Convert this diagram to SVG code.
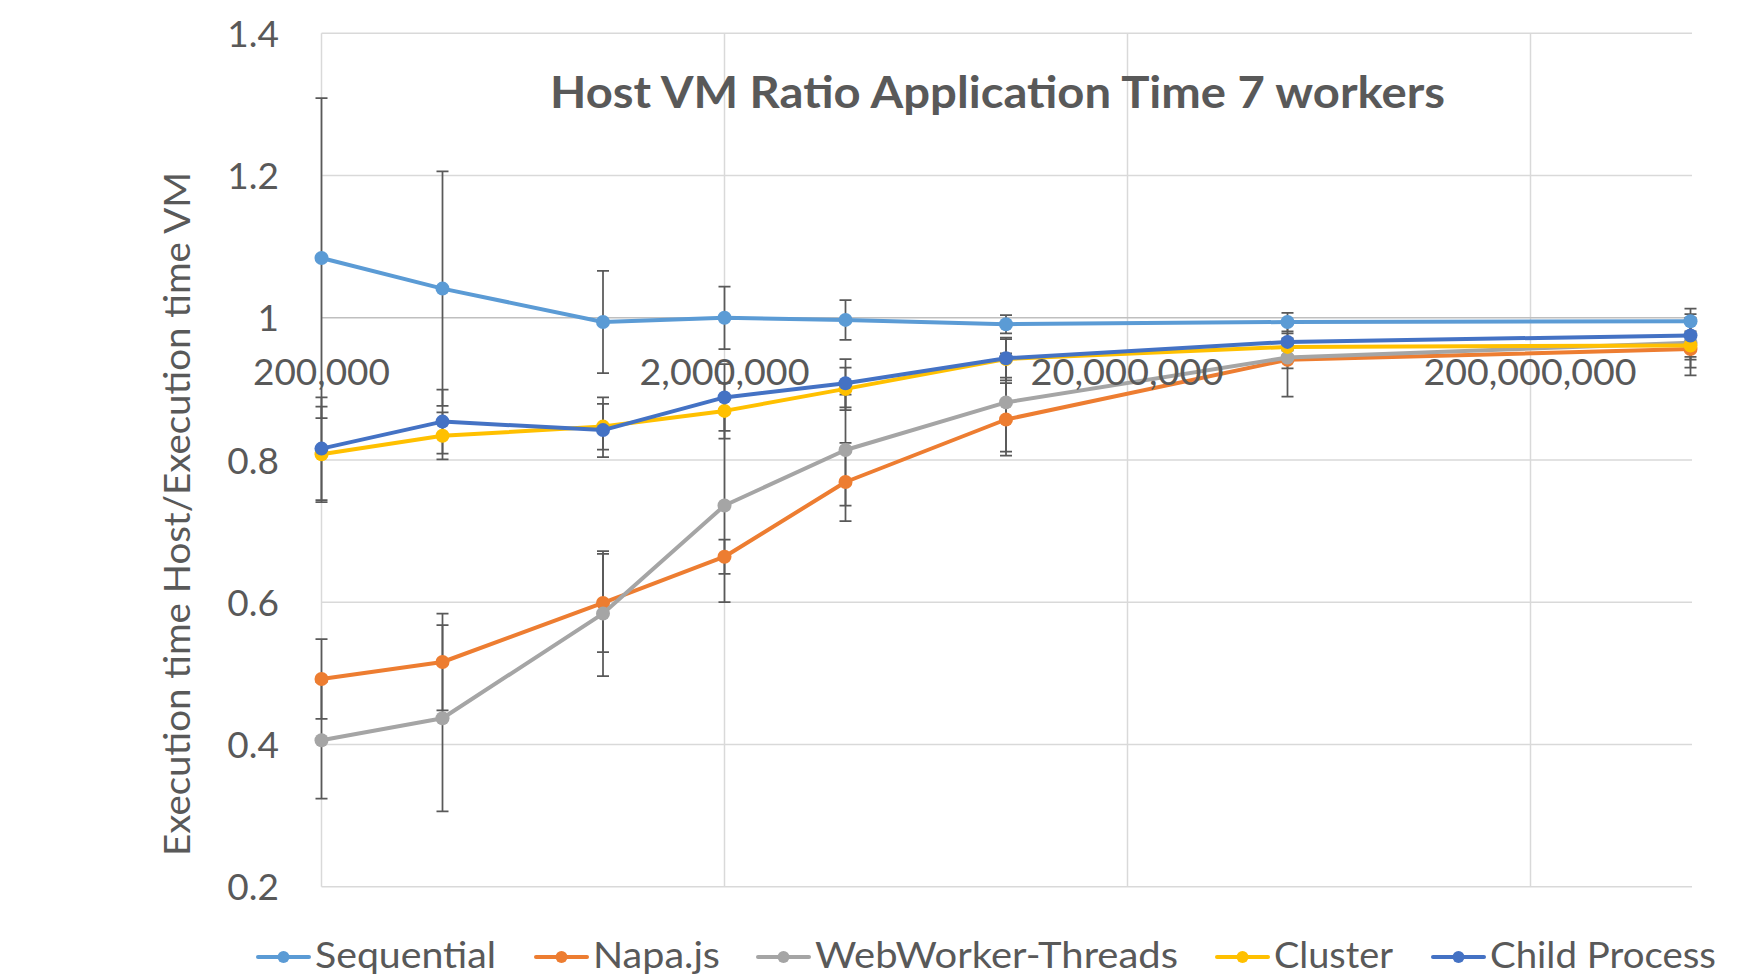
<svg xmlns="http://www.w3.org/2000/svg" width="1743" height="977" viewBox="0 0 1743 977">
<style>
.grid{stroke:#D9D9D9;stroke-width:1.5;fill:none}
.axis{stroke:#BFBFBF;stroke-width:1.5;fill:none}
.txt{font-family:Lato,"Liberation Sans",sans-serif;fill:#595959;stroke:none}
.ytick{font-size:37px;text-anchor:end}
.xtick{font-size:37px;text-anchor:middle}
.err{stroke:#595959;stroke-width:1.75;fill:none}
.ln{fill:none;stroke-width:4;stroke-linejoin:round;stroke-linecap:round}
.l-seq{stroke:#5B9BD5}.m-seq{fill:#5B9BD5}
.l-napa{stroke:#ED7D31}.m-napa{fill:#ED7D31}
.l-ww{stroke:#A5A5A5}.m-ww{fill:#A5A5A5}
.l-clu{stroke:#FFC000}.m-clu{fill:#FFC000}
.l-chi{stroke:#4472C4}.m-chi{fill:#4472C4}
</style>
<defs>
<circle id="mk" r="7"/>
<circle id="lmk" r="6"/>
</defs>
<rect width="1743" height="977" fill="#FFFFFF"/>
<g id="grid">
<path class="grid" d="M321.5 33.3H1692M321.5 175.5H1692M321.5 460H1692M321.5 602.2H1692M321.5 744.5H1692M321.5 886.7H1692"/>
<path class="grid" d="M321.5 33.3V886.7M724.5 33.3V886.7M1127.5 33.3V886.7M1530.5 33.3V886.7"/>
<path class="axis" d="M321.5 317.8H1692"/>
</g>
<g id="y-ticks" class="txt ytick">
<text x="279" y="47">1.4</text>
<text x="279" y="189">1.2</text>
<text x="279" y="331">1</text>
<text x="279" y="473.5">0.8</text>
<text x="279" y="615.5">0.6</text>
<text x="279" y="758">0.4</text>
<text x="279" y="900">0.2</text>
</g>
<g id="title">
<text class="txt" x="550" y="108" font-size="43" font-weight="bold" textLength="895" lengthAdjust="spacingAndGlyphs">Host VM Ratio Application Time 7 workers</text>
</g>
<g id="y-title">
<text class="txt" transform="translate(190 514) rotate(-90)" x="0" y="0" font-size="37" text-anchor="middle" textLength="684" lengthAdjust="spacingAndGlyphs">Execution time Host/Execution time VM</text>
</g>
<g id="connectors">
<g id="error-bars" class="err">
<path d="M321.5 98V418M315.5 98H327.5M315.5 418H327.5 M442.5 171.3V405.9M436.5 171.3H448.5M436.5 405.9H448.5 M603 270.8V373.2M597 270.8H609M597 373.2H609 M724.5 286.5V349.1M718.5 286.5H730.5M718.5 349.1H730.5 M845.5 300V339.8M839.5 300H851.5M839.5 339.8H851.5 M1006 315V333.4M1000 315H1012M1000 333.4H1012 M1287.5 312.8V331.3M1281.5 312.8H1293.5M1281.5 331.3H1293.5 M1690.5 308.5V334.1M1684.5 308.5H1696.5M1684.5 334.1H1696.5"/>
<path d="M321.5 639.2V718.9M315.5 639.2H327.5M315.5 718.9H327.5 M442.5 613.6V710.3M436.5 613.6H448.5M436.5 710.3H448.5 M603 553.9V652M597 553.9H609M597 652H609 M724.5 539.6V573.8M718.5 539.6H730.5M718.5 573.8H730.5 M845.5 442.9V521.2M839.5 442.9H851.5M839.5 521.2H851.5 M1006 383.2V455.7M1000 383.2H1012M1000 455.7H1012 M1287.5 322.7V396.7M1281.5 322.7H1293.5M1281.5 396.7H1293.5 M1690.5 322.7V375.4M1684.5 322.7H1696.5M1684.5 375.4H1696.5"/>
<path d="M321.5 681.9V798.5M315.5 681.9H327.5M315.5 798.5H327.5 M442.5 625V811.3M436.5 625H448.5M436.5 811.3H448.5 M603 551V676.2M597 551H609M597 676.2H609 M724.5 408.8V602.2M718.5 408.8H730.5M718.5 602.2H730.5 M845.5 394.6V505.5M839.5 394.6H851.5M839.5 505.5H851.5 M1006 353.3V451.5M1000 353.3H1012M1000 451.5H1012 M1287.5 347V368.3M1281.5 347H1293.5M1281.5 368.3H1293.5 M1690.5 317.8V367.6M1684.5 317.8H1696.5M1684.5 367.6H1696.5"/>
<path d="M321.5 406.7V502M315.5 406.7H327.5M315.5 502H327.5 M442.5 412.3V459.3M436.5 412.3H448.5M436.5 459.3H448.5 M603 403.8V449.5M597 403.8H609M597 449.5H609 M724.5 383.2V438.6M718.5 383.2H730.5M718.5 438.6H730.5 M845.5 367.6V410.2M839.5 367.6H851.5M839.5 410.2H851.5 M1006 337.7V380.3M1000 337.7H1012M1000 380.3H1012 M1287.5 338.4V355.4M1281.5 338.4H1293.5M1281.5 355.4H1293.5 M1690.5 331.3V359.7M1684.5 331.3H1696.5M1684.5 359.7H1696.5"/>
<path d="M321.5 397.4V500M315.5 397.4H327.5M315.5 500H327.5 M442.5 389.6V453.6M436.5 389.6H448.5M436.5 453.6H448.5 M603 397.4V457.2M597 397.4H609M597 457.2H609 M724.5 364V430.8M718.5 364H730.5M718.5 430.8H730.5 M845.5 359V407.4M839.5 359H851.5M839.5 407.4H851.5 M1006 339.1V377.5M1000 339.1H1012M1000 377.5H1012 M1287.5 333.4V350.5M1281.5 333.4H1293.5M1281.5 350.5H1293.5 M1690.5 314.2V356.8M1684.5 314.2H1696.5M1684.5 356.8H1696.5"/>
</g>
<g id="series-sequential">
<polyline class="ln l-seq" points="321.5,258 442.5,288.6 603,322 724.5,317.8 845.5,319.9 1006,324.2 1287.5,322 1690.5,321.3"/>
<g class="m-seq"><use href="#mk" x="321.5" y="258"/><use href="#mk" x="442.5" y="288.6"/><use href="#mk" x="603" y="322"/><use href="#mk" x="724.5" y="317.8"/><use href="#mk" x="845.5" y="319.9"/><use href="#mk" x="1006" y="324.2"/><use href="#mk" x="1287.5" y="322"/><use href="#mk" x="1690.5" y="321.3"/></g>
</g>
<g id="series-napa">
<polyline class="ln l-napa" points="321.5,679 442.5,662 603,602.9 724.5,556.7 845.5,482 1006,419.5 1287.5,359.7 1690.5,349.1"/>
<g class="m-napa"><use href="#mk" x="321.5" y="679"/><use href="#mk" x="442.5" y="662"/><use href="#mk" x="603" y="602.9"/><use href="#mk" x="724.5" y="556.7"/><use href="#mk" x="845.5" y="482"/><use href="#mk" x="1006" y="419.5"/><use href="#mk" x="1287.5" y="359.7"/><use href="#mk" x="1690.5" y="349.1"/></g>
</g>
<g id="series-webworker">
<polyline class="ln l-ww" points="321.5,740.2 442.5,718.2 603,613.6 724.5,505.5 845.5,450 1006,402.4 1287.5,357.6 1690.5,342.7"/>
<g class="m-ww"><use href="#mk" x="321.5" y="740.2"/><use href="#mk" x="442.5" y="718.2"/><use href="#mk" x="603" y="613.6"/><use href="#mk" x="724.5" y="505.5"/><use href="#mk" x="845.5" y="450"/><use href="#mk" x="1006" y="402.4"/><use href="#mk" x="1287.5" y="357.6"/><use href="#mk" x="1690.5" y="342.7"/></g>
</g>
<g id="series-cluster">
<polyline class="ln l-clu" points="321.5,454.3 442.5,435.8 603,426.6 724.5,410.9 845.5,388.9 1006,359 1287.5,346.9 1690.5,345.5"/>
<g class="m-clu"><use href="#mk" x="321.5" y="454.3"/><use href="#mk" x="442.5" y="435.8"/><use href="#mk" x="603" y="426.6"/><use href="#mk" x="724.5" y="410.9"/><use href="#mk" x="845.5" y="388.9"/><use href="#mk" x="1006" y="359"/><use href="#mk" x="1287.5" y="346.9"/><use href="#mk" x="1690.5" y="345.5"/></g>
</g>
<g id="series-child">
<polyline class="ln l-chi" points="321.5,448.6 442.5,421.6 603,430.1 724.5,397.4 845.5,383.2 1006,358.3 1287.5,341.9 1690.5,335.5"/>
<g class="m-chi"><use href="#mk" x="321.5" y="448.6"/><use href="#mk" x="442.5" y="421.6"/><use href="#mk" x="603" y="430.1"/><use href="#mk" x="724.5" y="397.4"/><use href="#mk" x="845.5" y="383.2"/><use href="#mk" x="1006" y="358.3"/><use href="#mk" x="1287.5" y="341.9"/><use href="#mk" x="1690.5" y="335.5"/></g>
</g>
</g>
<g id="x-ticks" class="txt xtick">
<text x="321.5" y="385" textLength="137" lengthAdjust="spacingAndGlyphs">200,000</text>
<text x="724.5" y="385" textLength="170" lengthAdjust="spacingAndGlyphs">2,000,000</text>
<text x="1127" y="385" textLength="193" lengthAdjust="spacingAndGlyphs">20,000,000</text>
<text x="1530" y="385" textLength="213" lengthAdjust="spacingAndGlyphs">200,000,000</text>
</g>
<g id="legend">
<g id="legend-sequential"><path class="ln l-seq" d="M258 957H309"/><use class="m-seq" href="#lmk" x="283.5" y="957"/><text class="txt" x="315" y="968" font-size="37" textLength="181" lengthAdjust="spacingAndGlyphs">Sequential</text></g>
<g id="legend-napa"><path class="ln l-napa" d="M536 957H587"/><use class="m-napa" href="#lmk" x="561.5" y="957"/><text class="txt" x="593" y="968" font-size="37" textLength="127" lengthAdjust="spacingAndGlyphs">Napa.js</text></g>
<g id="legend-webworker"><path class="ln l-ww" d="M758 957H809"/><use class="m-ww" href="#lmk" x="783.5" y="957"/><text class="txt" x="815" y="968" font-size="37" textLength="363" lengthAdjust="spacingAndGlyphs">WebWorker-Threads</text></g>
<g id="legend-cluster"><path class="ln l-clu" d="M1217 957H1268"/><use class="m-clu" href="#lmk" x="1242.5" y="957"/><text class="txt" x="1274" y="968" font-size="37" textLength="119" lengthAdjust="spacingAndGlyphs">Cluster</text></g>
<g id="legend-child"><path class="ln l-chi" d="M1433 957H1484"/><use class="m-chi" href="#lmk" x="1458.5" y="957"/><text class="txt" x="1490" y="968" font-size="37" textLength="226" lengthAdjust="spacingAndGlyphs">Child Process</text></g>
</g>
</svg>
